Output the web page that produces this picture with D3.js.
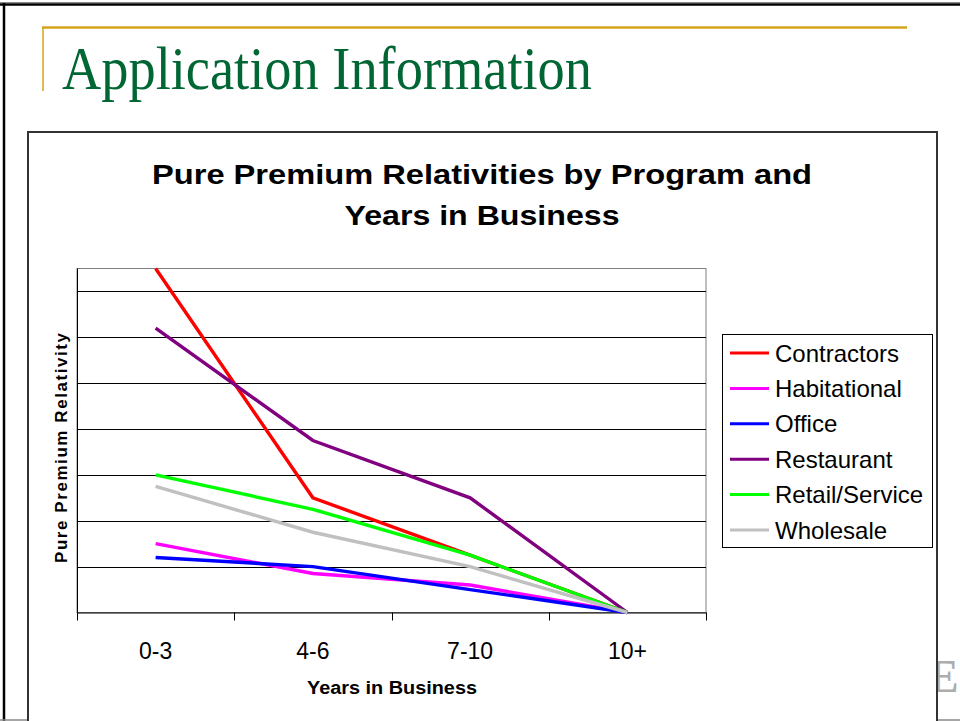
<!DOCTYPE html>
<html>
<head>
<meta charset="utf-8">
<script src="https://cdn.jsdelivr.net/npm/d3@7"></script>
<style>
  html, body { margin: 0; padding: 0; background: #fff; }
  svg { display: block; }
</style>
</head>
<body>
<svg id="chart" width="960" height="721"></svg>
<script>
// data
const categories = ['0-3', '4-6', '7-10', '10+']
const programs = ['Contractors', 'Habitational', 'Office', 'Restaurant', 'Retail/Service', 'Wholesale']
const contractors = [1.75, 1.25, 1.125, 1.0]
const habitational = [1.15, 1.085, 1.06, 1.0]
const office = [1.12, 1.10, 1.05, 1.0]
const restaurant = [1.62, 1.375, 1.25, 1.0]
const retailService = [1.30, 1.225, 1.125, 1.0]
const wholesale = [1.275, 1.175, 1.10, 1.0]
const gridValues = [1.1, 1.2, 1.3, 1.4, 1.5, 1.6, 1.7]

const seriesValues = [contractors, habitational, office, restaurant, retailService, wholesale]
const COLORS = ['#FF0000', '#FF00FF', '#0000FF', '#800080', '#00FF00', '#C0C0C0']

const svg = d3.select('#chart')
const font = 'Arial, "Liberation Sans", Helvetica, sans-serif'

//
// SLIDE FRAME ---------------------------------------------------------------
//
svg.append('line').attr('x1', 0).attr('x2', 960).attr('y1', 2.5).attr('y2', 2.5)
  .attr('stroke', '#888').attr('stroke-width', 1)
svg.append('line').attr('x1', 0).attr('x2', 960).attr('y1', 4.5).attr('y2', 4.5)
  .attr('stroke', '#000').attr('stroke-width', 2.5)
svg.append('line').attr('x1', 4).attr('x2', 4).attr('y1', 3).attr('y2', 721)
  .attr('stroke', '#000').attr('stroke-width', 2.5)
svg.append('line').attr('x1', 0).attr('x2', 960).attr('y1', 720).attr('y2', 720)
  .attr('stroke', '#888').attr('stroke-width', 1.5)

// gold rule
svg.append('line').attr('x1', 42).attr('x2', 907).attr('y1', 27.5).attr('y2', 27.5)
  .attr('stroke', '#D4A51C').attr('stroke-width', 2.5)
svg.append('line').attr('x1', 43).attr('x2', 43).attr('y1', 27).attr('y2', 91)
  .attr('stroke', '#D4A51C').attr('stroke-width', 1.5)

svg.append('text')
  .attr('x', 62).attr('y', 89)
  .attr('font-family', '"Liberation Serif", "Times New Roman", serif')
  .attr('font-size', 62)
  .attr('fill', '#006633')
  .attr('textLength', 530)
  .attr('lengthAdjust', 'spacingAndGlyphs')
  .text('Application Information')

// logo peeking out at the right edge
svg.append('text')
  .attr('x', 928).attr('y', 692)
  .attr('font-family', '"Liberation Serif", serif')
  .attr('font-weight', 'bold')
  .attr('font-size', 46)
  .attr('fill', '#999')
  .attr('opacity', 0.8)
  .text('E')

//
// CHART AREA ----------------------------------------------------------------
//
svg.append('rect')
  .attr('x', 28).attr('y', 132).attr('width', 909).attr('height', 620)
  .attr('fill', '#fff').attr('stroke', '#333').attr('stroke-width', 2)

svg.append('text')
  .attr('x', 482).attr('y', 184)
  .attr('text-anchor', 'middle')
  .attr('font-family', font).attr('font-weight', 'bold').attr('font-size', 28)
  .attr('textLength', 660).attr('lengthAdjust', 'spacingAndGlyphs')
  .text('Pure Premium Relativities by Program and')
svg.append('text')
  .attr('x', 482).attr('y', 225)
  .attr('text-anchor', 'middle')
  .attr('font-family', font).attr('font-weight', 'bold').attr('font-size', 28)
  .attr('textLength', 275).attr('lengthAdjust', 'spacingAndGlyphs')
  .text('Years in Business')

const margin = { left: 77, right: 706, top: 268.5, bottom: 612.5 }

const xScale = d3.scaleBand().domain(categories).range([margin.left, margin.right])
const yScale = d3.scaleLinear().domain([1.0, 1.75]).range([margin.bottom, margin.top])
const xMid = c => xScale(c) + xScale.bandwidth() / 2

// plot area border (grey top / right)
svg.append('rect')
  .attr('x', margin.left).attr('y', margin.top)
  .attr('width', margin.right - margin.left).attr('height', margin.bottom - margin.top)
  .attr('fill', 'none').attr('stroke', '#808080').attr('stroke-width', 1)

// gridlines
svg.append('g')
  .selectAll('line').data(gridValues).enter()
  .append('line')
    .attr('x1', margin.left).attr('x2', margin.right)
    .attr('y1', d => Math.round(yScale(d)) + 0.5)
    .attr('y2', d => Math.round(yScale(d)) + 0.5)
    .attr('stroke', '#000').attr('stroke-width', 1)

// y axis line
svg.append('line')
  .attr('x1', margin.left + 0.5).attr('x2', margin.left + 0.5)
  .attr('y1', margin.top).attr('y2', margin.bottom)
  .attr('stroke', '#000')

// x axis: labels from the band scale, ticks at band boundaries
const xAxis = svg.append('g')
  .attr('transform', 'translate(0,' + margin.bottom + ')')
  .call(d3.axisBottom(xScale).tickSize(0).tickPadding(30))
xAxis.select('.domain').attr('stroke', '#000').attr('stroke-width', 1.2)
xAxis.selectAll('text')
  .attr('font-family', font).attr('font-size', 23).attr('fill', '#000')

const boundaries = categories.map(c => xScale(c)).concat([xScale.range()[1]])
svg.append('g')
  .selectAll('line').data(boundaries).enter()
  .append('line')
    .attr('x1', d => Math.round(d) + 0.5).attr('x2', d => Math.round(d) + 0.5)
    .attr('y1', margin.bottom).attr('y2', margin.bottom + 8)
    .attr('stroke', '#000')

svg.append('text')
  .attr('x', 392).attr('y', 694)
  .attr('text-anchor', 'middle')
  .attr('font-family', font).attr('font-weight', 'bold').attr('font-size', 18)
  .attr('textLength', 170).attr('lengthAdjust', 'spacingAndGlyphs')
  .text('Years in Business')

svg.append('text')
  .attr('transform', 'translate(67,448) rotate(-90)')
  .attr('text-anchor', 'middle')
  .attr('font-family', font).attr('font-weight', 'bold').attr('font-size', 17)
  .attr('textLength', 230).attr('lengthAdjust', 'spacing')
  .text('Pure Premium Relativity')

// series lines
const line = d3.line()
  .x((d, i) => xMid(categories[i]))
  .y(d => yScale(d))

svg.append('g')
  .selectAll('path').data(seriesValues).enter()
  .append('path')
    .attr('d', d => line(d))
    .attr('fill', 'none')
    .attr('stroke', (d, i) => COLORS[i])
    .attr('stroke-width', 3.4)
    .attr('stroke-linejoin', 'miter')

// legend
const legend = svg.append('g').attr('transform', 'translate(722,334)')
legend.append('rect')
  .attr('x', 0.5).attr('y', 0.5).attr('width', 210).attr('height', 213)
  .attr('fill', '#fff').attr('stroke', '#000').attr('stroke-width', 1)

const rows = legend.selectAll('.row').data(programs).enter()
  .append('g')
    .attr('transform', (d, i) => 'translate(0,' + (19 + i * 35.4) + ')')
rows.append('line')
  .attr('x1', 8).attr('x2', 47).attr('y1', 0).attr('y2', 0)
  .attr('stroke', (d, i) => COLORS[i]).attr('stroke-width', 3)
rows.append('text')
  .attr('x', 53).attr('y', 0).attr('dy', '0.36em')
  .attr('font-family', font).attr('font-size', 24)
  .text(d => d)
</script>
</body>
</html>
